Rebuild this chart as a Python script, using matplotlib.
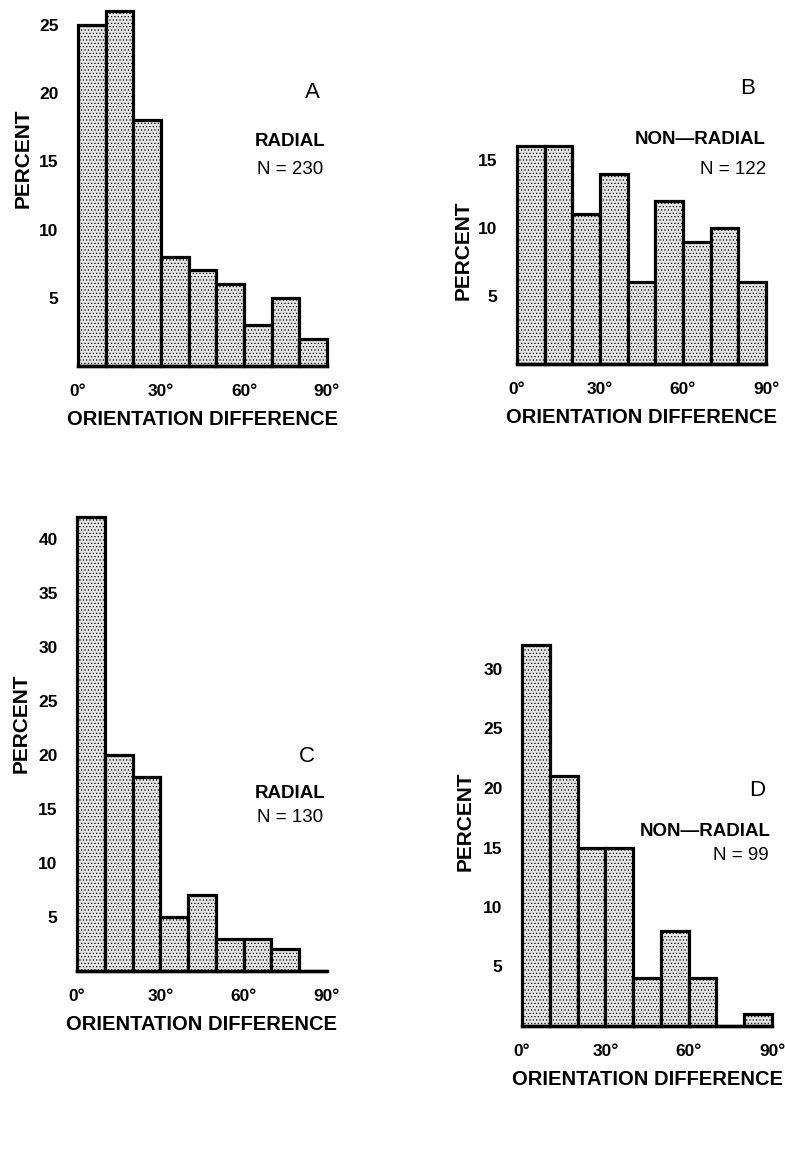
import matplotlib
matplotlib.use("Agg")
import matplotlib.pyplot as plt

plt.rcParams['font.family'] = ['Liberation Sans', 'DejaVu Sans']
plt.rcParams['hatch.color'] = '#c4c4c4'
plt.rcParams['hatch.linewidth'] = 0.5

# bin left edges (degrees), 10 deg bins
bins = [0, 10, 20, 30, 40, 50, 60, 70, 80]
xticks = [0, 30, 60, 90]
xticklabels = ["0°", "30°", "60°", "90°"]

# percent per bin
pct_a = [25, 26, 18, 8, 7, 6, 3, 5, 2]
pct_b = [16, 16, 11, 14, 6, 12, 9, 10, 6]
pct_c = [42, 20, 18, 5, 7, 3, 3, 2, 0]
pct_d = [32, 21, 15, 15, 4, 8, 4, 0, 1]

yticks_a = [5, 10, 15, 20, 25]
yticks_b = [5, 10, 15]
yticks_c = [5, 10, 15, 20, 25, 30, 35, 40]
yticks_d = [5, 10, 15, 20, 25, 30]

W, H = 785, 1175
fig = plt.figure(figsize=(W / 100, H / 100), dpi=100)


def px_axes(x0, x1, ybase, ytop):
    return fig.add_axes([x0 / W, (H - ybase) / H, (x1 - x0) / W, (ybase - ytop) / H])


def draw_hist(ax, vals, yticks, ymax):
    ax.bar(bins, vals, width=10, align='edge', color='#e6e6e6', hatch='.....',
           edgecolor='black', linewidth=2.3, clip_on=False, zorder=2)
    ax.set_xlim(0, 90)
    ax.set_ylim(0, ymax)
    for s in ['top', 'right', 'left']:
        ax.spines[s].set_visible(False)
    ax.spines['bottom'].set_linewidth(2.5)
    ax.spines['bottom'].set_zorder(3)
    ax.set_xticks(xticks)
    ax.set_xticklabels(xticklabels, fontsize=12.5, fontweight='bold')
    ax.set_yticks(yticks)
    ax.set_yticklabels([str(v) for v in yticks], fontsize=12.5, fontweight='bold')
    ax.tick_params(length=0)
    ax.tick_params(axis='x', pad=13)
    ax.tick_params(axis='y', pad=14)
    ax.set_xlabel("ORIENTATION DIFFERENCE", fontsize=14.5, fontweight='bold', labelpad=8)


def ftext(x, y, s, **kw):
    fig.text(x / W, 1 - y / H, s, va='center', **kw)


# A
axA = px_axes(78, 327, 366, 366 - 26.5 * 13.65)
draw_hist(axA, pct_a, yticks_a, 26.5)
ftext(23, 158, "PERCENT", rotation=90, ha='center', fontsize=15, fontweight='bold')
ftext(312, 93, "A", ha='center', fontsize=16)
ftext(290, 141, "RADIAL", ha='center', fontsize=13.5, fontweight='bold')
ftext(290, 169, "N = 230", ha='center', fontsize=13.5)

# B
axB = px_axes(517, 766, 364, 364 - 17 * 13.6)
draw_hist(axB, pct_b, yticks_b, 17)
ftext(463, 250, "PERCENT", rotation=90, ha='center', fontsize=15, fontweight='bold')
ftext(748, 88, "B", ha='center', fontsize=16)
ftext(766, 140, "NON\u2014RADIAL", ha='right', fontsize=13.5, fontweight='bold')
ftext(766, 169, "N = 122", ha='right', fontsize=13.5)

# C
axC = px_axes(77, 327, 971, 971 - 43 * 10.8)
draw_hist(axC, pct_c, yticks_c, 43)
ftext(21, 723, "PERCENT", rotation=90, ha='center', fontsize=15, fontweight='bold')
ftext(307, 757, "C", ha='center', fontsize=16)
ftext(290, 794, "RADIAL", ha='center', fontsize=13.5, fontweight='bold')
ftext(290, 817, "N = 130", ha='center', fontsize=13.5)

# D
axD = px_axes(522, 772, 1026, 1026 - 33 * 11.9)
draw_hist(axD, pct_d, yticks_d, 33)
ftext(465, 821, "PERCENT", rotation=90, ha='center', fontsize=15, fontweight='bold')
ftext(757, 790, "D", ha='center', fontsize=16)
ftext(771, 831, "NON\u2014RADIAL", ha='right', fontsize=13.5, fontweight='bold')
ftext(769, 855, "N = 99", ha='right', fontsize=13.5)

fig.savefig("out.png", dpi=100)
